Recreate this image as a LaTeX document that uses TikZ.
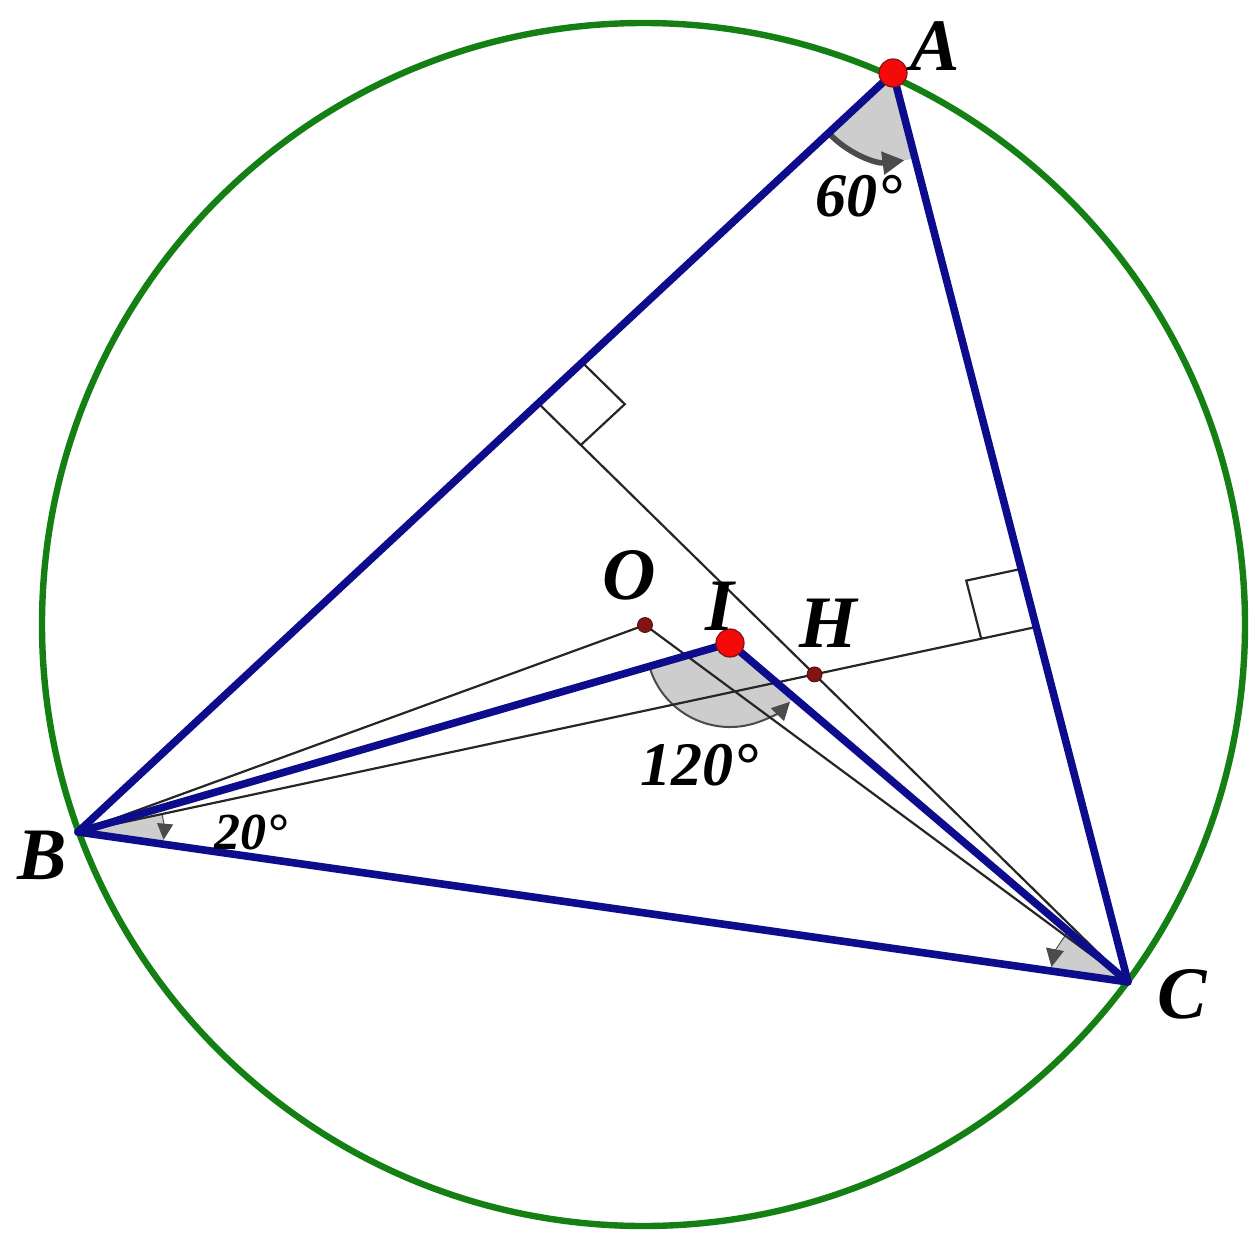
\documentclass[tikz,border=0pt]{standalone}
\usepackage{fontspec}
\setmainfont{Liberation Serif}
\usetikzlibrary{calc,arrows.meta}
\definecolor{navy}{RGB}{12,12,140}
\definecolor{cgreen}{RGB}{20,128,20}
\definecolor{dotred}{RGB}{245,10,10}
\definecolor{darkred}{RGB}{130,20,20}
\definecolor{shade}{RGB}{205,205,205}
\definecolor{arcgray}{RGB}{75,75,75}
\begin{document}
\begin{tikzpicture}[x=0.5pt,y=-0.5pt,
  tri/.style={draw=navy, line width=3.8pt, line join=round, line cap=round},
  thinline/.style={draw=black!85, line width=1.1pt},
  circline/.style={draw=cgreen, line width=3.2pt},
  sect/.style={fill=shade},
  arcline/.style={draw=arcgray, line width=1pt},
  bigdot/.style={circle, fill=dotred, draw=darkred, line width=0.6pt, inner sep=0pt, minimum size=14pt},
  smalldot/.style={circle, fill=darkred, draw=darkred!60!black, line width=0.4pt, inner sep=0pt, minimum size=7.5pt},
  lbl/.style={font=\fontsize{37}{40}\selectfont\bfseries\itshape, inner sep=0pt},
  deg/.style={font=\fontsize{31}{34}\selectfont\bfseries\itshape, inner sep=0pt},
  degsmall/.style={font=\fontsize{26}{30}\selectfont\bfseries\itshape, inner sep=0pt}]
\useasboundingbox (0,0) rectangle (1253,1237);
\fill[white] (0,0) rectangle (1253,1237);
% points
\coordinate (A) at (893,73);
\coordinate (B) at (78,832);
\coordinate (C) at (1128,982);
\coordinate (O) at (645,625);
\coordinate (I) at (730,643);
\coordinate (F) at (538,403);
\coordinate (G) at (1036,627);
\coordinate (H) at (intersection of B--G and C--F);
\coordinate (Oc) at (643.5,624.5);
% circumcircle
\draw[circline] (Oc) circle[radius=300.75pt];
% angle sectors
\path let \p1=($(B)-(A)$), \p2=($(C)-(A)$), \n1={atan2(\y1,\x1)}, \n2={atan2(\y2,\x2)} in
  [sect] (A) -- ($(A)+(\n1:44pt)$) arc[start angle=\n1, end angle=\n2, radius=44pt] -- cycle;
\path let \p1=($(B)-(A)$), \p2=($(C)-(A)$), \n1={atan2(\y1,\x1)}, \n2={atan2(\y2,\x2)} in
  [draw=arcgray, line width=2.8pt, -{Triangle[length=11pt,width=11pt]}] ($(A)+(\n1:44pt)$) arc[start angle=\n1, end angle=\n2-7, radius=44pt];
\path let \p1=($(B)-(I)$), \p2=($(C)-(I)$), \n1={atan2(\y1,\x1)}, \n2={atan2(\y2,\x2)} in
  [sect] (I) -- ($(I)+(\n1:42pt)$) arc[start angle=\n1, end angle=\n2, radius=42pt] -- cycle;
\path let \p1=($(B)-(I)$), \p2=($(C)-(I)$), \n1={atan2(\y1,\x1)}, \n2={atan2(\y2,\x2)} in
  [arcline, -{Triangle[length=9pt,width=9pt]}] ($(I)+(\n1:42pt)$) arc[start angle=\n1, end angle=\n2-4, radius=42pt];
\path let \p1=($(H)-(B)$), \p2=($(C)-(B)$), \n1={atan2(\y1,\x1)}, \n2={atan2(\y2,\x2)} in
  [sect] (B) -- ($(B)+(\n1:43pt)$) arc[start angle=\n1, end angle=\n2, radius=43pt] -- cycle;
\path let \p1=($(H)-(B)$), \p2=($(C)-(B)$), \n1={atan2(\y1,\x1)}, \n2={atan2(\y2,\x2)} in
  [draw=arcgray, line width=0.5pt, -{Triangle[length=8pt,width=8pt]}] ($(B)+(\n1:43pt)$) arc[start angle=\n1, end angle=\n2+3, radius=43pt];
\path let \p1=($(I)-(C)$), \p2=($(B)-(C)$), \n1={atan2(\y1,\x1)}, \n2={atan2(\y2,\x2)} in
  [sect] (C) -- ($(C)+(\n1:39pt)$) arc[start angle=\n1, end angle=\n2, radius=39pt] -- cycle;
\path let \p1=($(I)-(C)$), \p2=($(B)-(C)$), \n1={atan2(\y1,\x1)}, \n2={atan2(\y2,\x2)} in
  [draw=arcgray, line width=0.5pt, -{Triangle[length=9pt,width=9pt]}] ($(C)+(\n1:39pt)$) arc[start angle=\n1, end angle=\n2-3, radius=39pt];
% thin lines
\draw[thinline] (B) -- (O) -- (C);
\draw[thinline] (B) -- (G);
\draw[thinline] (F) -- (C);
% right angle marks
\coordinate (F1) at ($(F)!30pt!(A)$);
\coordinate (F2) at ($(F)!30pt!(C)$);
\draw[thinline] (F1) -- ($(F1)+(F2)-(F)$) -- (F2);
\coordinate (G1) at ($(G)!30pt!(A)$);
\coordinate (G2) at ($(G)!28pt!(B)$);
\draw[thinline] (G1) -- ($(G1)+(G2)-(G)$) -- (G2);
% triangle and incenter lines
\draw[tri] (A) -- (B) -- (C) -- cycle;
\draw[tri] (B) -- (I) -- (C);
% dots
\node[smalldot] (dO) at (O) {};
\node[smalldot] (dH) at (H) {};
\node[bigdot] (dA) at (A) {};
\node[bigdot] (dI) at (I) {};
% labels
\node[lbl] (labA) at (935,46) {A};
\node[lbl] (labB) at (42,855) {B};
\node[lbl] (labC) at (1182,994) {C};
\node[lbl] (labO) at (629,575) {O};
\node[lbl] (labI) at (720,606) {I};
\node[lbl] (labH) at (828,623) {H};
\node[deg] (d60) at (859,196) {60°};
\node[deg] (d120) at (699,765) {120°};
\node[degsmall] (d20) at (251,832) {20°};
\end{tikzpicture}
\end{document}
